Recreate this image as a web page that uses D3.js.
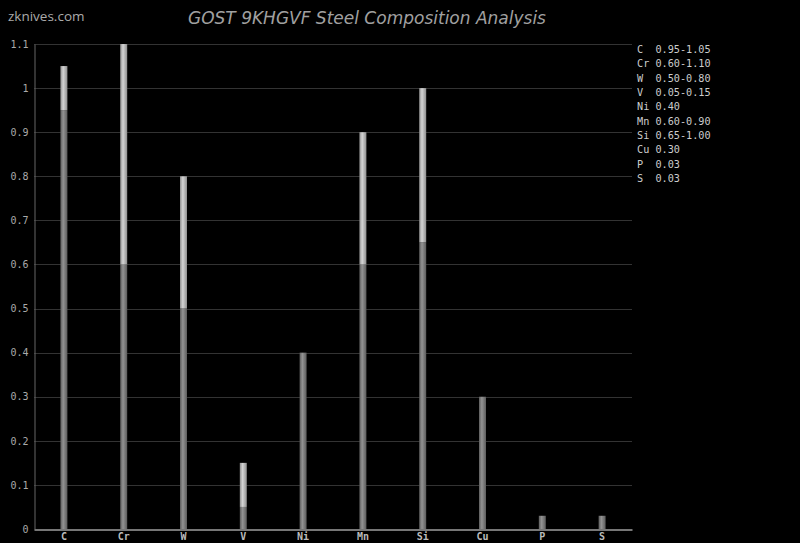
<!DOCTYPE html>
<html><head><meta charset="utf-8">
<script src="https://cdn.jsdelivr.net/npm/d3@7"></script>
<style>body{margin:0;background:#000;}svg{display:block;}</style>
</head><body>
<script>
const categories = ["C","Cr","W","V","Ni","Mn","Si","Cu","P","S"];
const minValues  = [0.95,0.60,0.50,0.05,0.40,0.60,0.65,0.30,0.03,0.03];
const maxValues  = [1.05,1.10,0.80,0.15,0.40,0.90,1.00,0.30,0.03,0.03];
const legendLabels = ["C  0.95-1.05","Cr 0.60-1.10","W  0.50-0.80","V  0.05-0.15","Ni 0.40","Mn 0.60-0.90","Si 0.65-1.00","Cu 0.30","P  0.03","S  0.03"];
const yTicks = [0,0.1,0.2,0.3,0.4,0.5,0.6,0.7,0.8,0.9,1,1.1];

(function(){
const W = 800, H = 543;
const svg = d3.select("body").append("svg").attr("width", W).attr("height", H).style("background","#000");
const mLeft = 34, mRight = 632, mTop = 44, mBottom = 529;

const x = d3.scaleBand().domain(categories).range([mLeft, mRight]);
const y = d3.scaleLinear().domain([0, 1.1]).range([mBottom, mTop]);

const defs = svg.append("defs");
function grad(id, edge, mid) {
  const g = defs.append("linearGradient").attr("id", id).attr("x1","0%").attr("x2","100%").attr("y1","0%").attr("y2","0%");
  g.append("stop").attr("offset","0%").attr("stop-color", edge);
  g.append("stop").attr("offset","40%").attr("stop-color", mid);
  g.append("stop").attr("offset","100%").attr("stop-color", edge);
}
grad("gLow", "#5c5c5c", "#939393");
grad("gHigh", "#8f8f8f", "#d4d4d4");

svg.append("g").selectAll("line").data(yTicks.filter(d => d > 0)).join("line")
  .attr("x1", mLeft).attr("x2", mRight)
  .attr("y1", d => Math.round(y(d)) + 0.5).attr("y2", d => Math.round(y(d)) + 0.5)
  .attr("stroke", "#333").attr("stroke-width", 1);

const yAxis = svg.append("g").attr("transform", `translate(${mLeft + 0.5},0)`)
  .call(d3.axisLeft(y).tickValues(yTicks).tickSize(0).tickPadding(6).tickFormat(d => d3.format("~g")(d)));
yAxis.select(".domain").attr("stroke", "#666");
yAxis.selectAll("text").attr("fill", "#aaa").style("font-family", "'DejaVu Sans Mono', monospace").style("font-size", "10px");

const xAxis = svg.append("g").attr("transform", `translate(0,${mBottom + 0.5})`)
  .call(d3.axisBottom(x).tickSize(0).tickPadding(3));
xAxis.select(".domain").attr("stroke", "#777").attr("stroke-width", 2);
xAxis.selectAll("text").attr("fill", "#bbb").style("font-family", "'DejaVu Sans Mono', monospace").style("font-size", "10px").style("font-weight", "bold");

const bw = 7;
const data = categories.map((c, i) => ({c, lo: minValues[i], hi: maxValues[i]}));
const bars = svg.append("g");
bars.selectAll("rect.low").data(data).join("rect").attr("class","low")
  .attr("x", d => x(d.c) + x.bandwidth()/2 - bw/2).attr("width", bw)
  .attr("y", d => y(d.lo)).attr("height", d => y(0) - y(d.lo))
  .attr("fill", "url(#gLow)");
bars.selectAll("rect.high").data(data.filter(d => d.hi > d.lo)).join("rect").attr("class","high")
  .attr("x", d => x(d.c) + x.bandwidth()/2 - bw/2).attr("width", bw)
  .attr("y", d => y(d.hi)).attr("height", d => y(d.lo) - y(d.hi))
  .attr("fill", "url(#gHigh)");

svg.append("g").selectAll("text").data(legendLabels).join("text")
  .attr("x", 637).attr("y", (d, i) => 53 + i * 14.35)
  .attr("fill", "#ccc").style("font-family", "'DejaVu Sans Mono', monospace").style("font-size", "10.2px")
  .style("white-space", "pre")
  .text(d => d);

svg.append("text").attr("x", 367).attr("y", 24).attr("text-anchor", "middle")
  .attr("fill", "#a0a0a0").style("font-family", "'DejaVu Sans', sans-serif").style("font-size", "17px").style("font-style", "italic")
  .text("GOST 9KHGVF Steel Composition Analysis");

svg.append("text").attr("x", 8).attr("y", 21)
  .attr("fill", "#aaa").style("font-family", "'Open Sans', sans-serif").style("font-size", "13.5px")
  .text("zknives.com");
})();
</script>
</body></html>
